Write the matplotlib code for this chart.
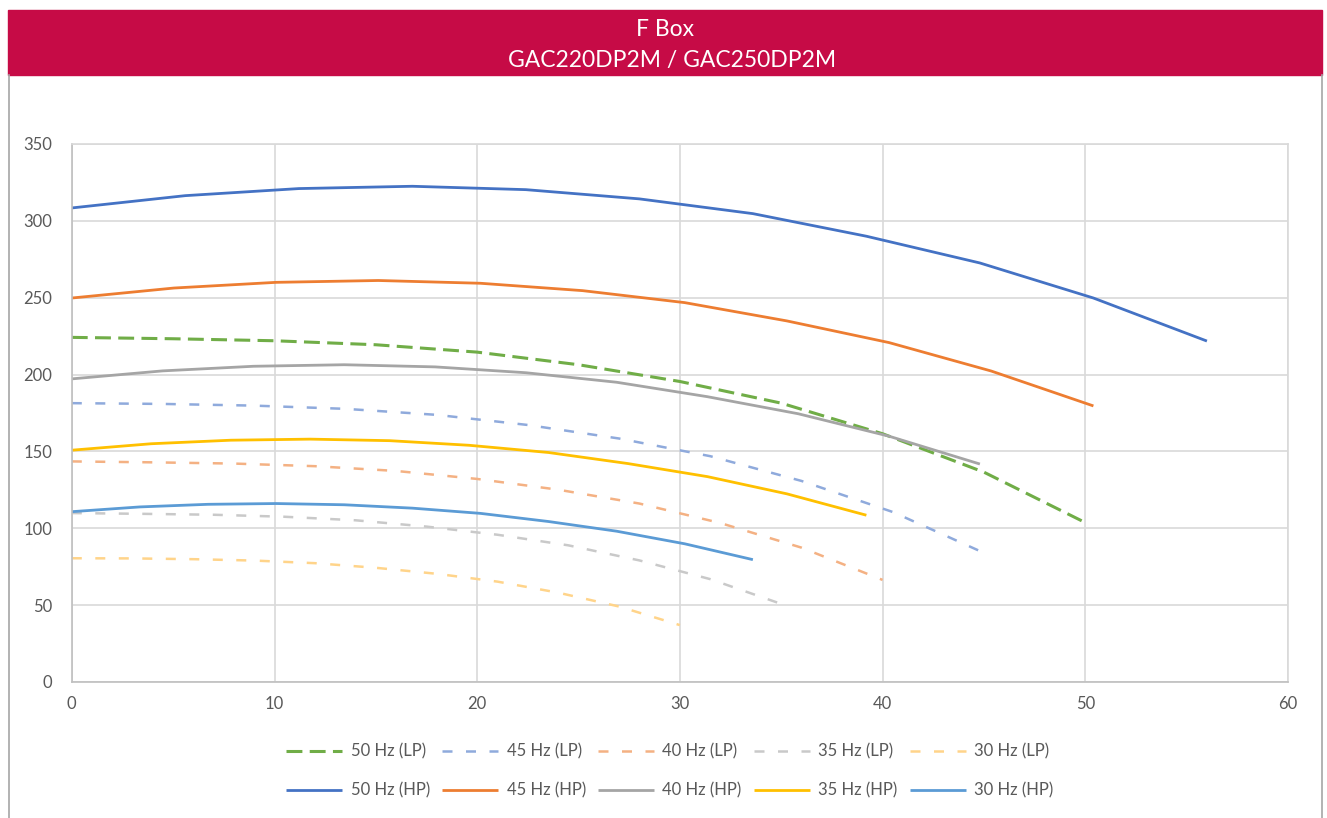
import matplotlib
matplotlib.use("Agg")
import matplotlib.pyplot as plt
from matplotlib.patches import Rectangle
from matplotlib.lines import Line2D

plt.rcParams['font.family'] = ['Lato', 'DejaVu Sans']

# flow points for each speed
x_50 = [0, 5.6, 11.2, 16.8, 22.4, 28.0, 33.6, 39.2, 44.8, 50.4, 56.0]
x_45 = [0, 5.04, 10.08, 15.12, 20.16, 25.2, 30.24, 35.28, 40.32, 45.36, 50.4]
x_40 = [0, 4.48, 8.96, 13.44, 17.92, 22.4, 26.88, 31.36, 35.84, 40.32, 44.8]
x_35 = [0, 3.92, 7.84, 11.76, 15.68, 19.6, 23.52, 27.44, 31.36, 35.28, 39.2]
x_30 = [0, 3.36, 6.72, 10.08, 13.44, 16.8, 20.16, 23.52, 26.88, 30.24, 33.6]

# high pressure curves
hp_50 = [308.4, 316.4, 321.0, 322.5, 320.3, 314.3, 304.7, 290.0, 272.6, 249.8, 221.8]
hp_45 = [249.8, 256.3, 260.0, 261.2, 259.4, 254.6, 246.8, 234.9, 220.8, 202.3, 179.6]
hp_40 = [197.2, 202.4, 205.4, 206.4, 205.0, 201.2, 195.0, 185.6, 174.5, 159.9, 141.8]
hp_35 = [150.8, 155.0, 157.3, 158.0, 157.0, 154.0, 149.3, 142.1, 133.6, 122.4, 108.5]
hp_30 = [110.8, 113.9, 115.6, 116.1, 115.3, 113.1, 109.7, 104.4, 98.1, 89.9, 79.6]

# low pressure curves
x_lp50 = [0, 5, 10, 15, 20, 25, 30, 35, 40, 45, 50]
x_lp45 = [0, 4.5, 9, 13.5, 18, 22.5, 27, 31.5, 36, 40.5, 45]
x_lp40 = [0, 4, 8, 12, 16, 20, 24, 28, 32, 36, 40]
x_lp35 = [0, 3.5, 7, 10.5, 14, 17.5, 21, 24.5, 28, 31.5, 35]
x_lp30 = [0, 3, 6, 9, 12, 15, 18, 21, 24, 27, 30]

lp_50 = [224.2, 223.3, 222.0, 219.4, 214.6, 206.4, 195.5, 181.4, 161.5, 136.5, 103.7]
lp_45 = [181.4, 180.9, 179.8, 177.7, 173.8, 167.2, 158.4, 146.9, 130.8, 110.6, 84.0]
lp_40 = [143.5, 142.9, 142.1, 140.4, 137.3, 132.1, 125.1, 116.1, 103.4, 87.4, 66.4]
lp_35 = [109.9, 109.4, 108.8, 107.5, 105.2, 101.1, 95.8, 88.9, 79.1, 66.9, 50.8]
lp_30 = [80.5, 80.4, 79.9, 79.0, 77.3, 74.3, 70.4, 65.3, 58.1, 49.1, 37.0]

hp_series = [
    ("50 Hz (HP)", x_50, hp_50, "#4472C4"),
    ("45 Hz (HP)", x_45, hp_45, "#ED7D31"),
    ("40 Hz (HP)", x_40, hp_40, "#A5A5A5"),
    ("35 Hz (HP)", x_35, hp_35, "#FFC000"),
    ("30 Hz (HP)", x_30, hp_30, "#5B9BD5"),
]
lp_series = [
    ("50 Hz (LP)", x_lp50, lp_50, "#70AD47"),
    ("45 Hz (LP)", x_lp45, lp_45, "#8FAADC"),
    ("40 Hz (LP)", x_lp40, lp_40, "#F4B183"),
    ("35 Hz (LP)", x_lp35, lp_35, "#C9C9C9"),
    ("30 Hz (LP)", x_lp30, lp_30, "#FFD48A"),
]

fig = plt.figure(figsize=(13.27, 8.18), dpi=100)
W, H = 1327, 818

# title banner and frame
fig.patches.append(Rectangle((8 / W, 1 - 75 / H), 1314 / W, 65 / H,
                             transform=fig.transFigure, color="#C60B46", zorder=0))
for xb in (8.5, 1321.5):
    fig.add_artist(Line2D([xb / W, xb / W], [0, 1 - 75 / H], transform=fig.transFigure,
                          color="#A6A6A6", lw=1.2))
fig.text(665 / W, 1 - 29 / H, "F Box", color="white", fontsize=16.5,
         ha="center", va="center")
fig.text(672 / W, 1 - 60 / H, "GAC220DP2M / GAC250DP2M", color="white", fontsize=16.5,
         ha="center", va="center")

ax = fig.add_axes([71.8 / W, 1 - 682 / H, (1288 - 71.8) / W, (682 - 144) / H])

handles = []
for (lname, lx, ly, lc), (hname, hx, hy, hc) in zip(lp_series, hp_series):
    if lname.startswith("50"):
        l_lp, = ax.plot(lx, ly, color=lc, lw=2.2, dashes=(5.2, 2.4),
                        dash_capstyle="butt", label=lname)
    else:
        l_lp, = ax.plot(lx, ly, color=lc, lw=1.8, dashes=(4.0, 5.4),
                        dash_capstyle="butt", label=lname)
    l_hp, = ax.plot(hx, hy, color=hc, lw=2.0, solid_capstyle="butt", label=hname)
    handles += [l_lp, l_hp]

ax.set_xlim(0, 60)
ax.set_ylim(0, 350)
ax.set_xticks(range(0, 61, 10))
ax.set_yticks(range(0, 351, 50))
ax.grid(True, color="#D9D9D9", lw=1.2)
ax.set_axisbelow(True)
for s in ax.spines.values():
    s.set_color("#D9D9D9")
    s.set_linewidth(1.2)
ax.spines["left"].set_color("#BFBFBF")
ax.spines["bottom"].set_color("#BFBFBF")
ax.tick_params(length=0, labelsize=12, labelcolor="#595959", pad=10)
ax.tick_params(axis="y", pad=14)

fig.legend(handles=handles, labels=[h.get_label() for h in handles], ncol=5,
           loc="center", bbox_to_anchor=(670 / W, 1 - 771 / H), frameon=False,
           fontsize=12, labelcolor="#595959", handlelength=3.35, handletextpad=0.5,
           columnspacing=0.75, labelspacing=1.35)

fig.savefig("out.png", dpi=100)
